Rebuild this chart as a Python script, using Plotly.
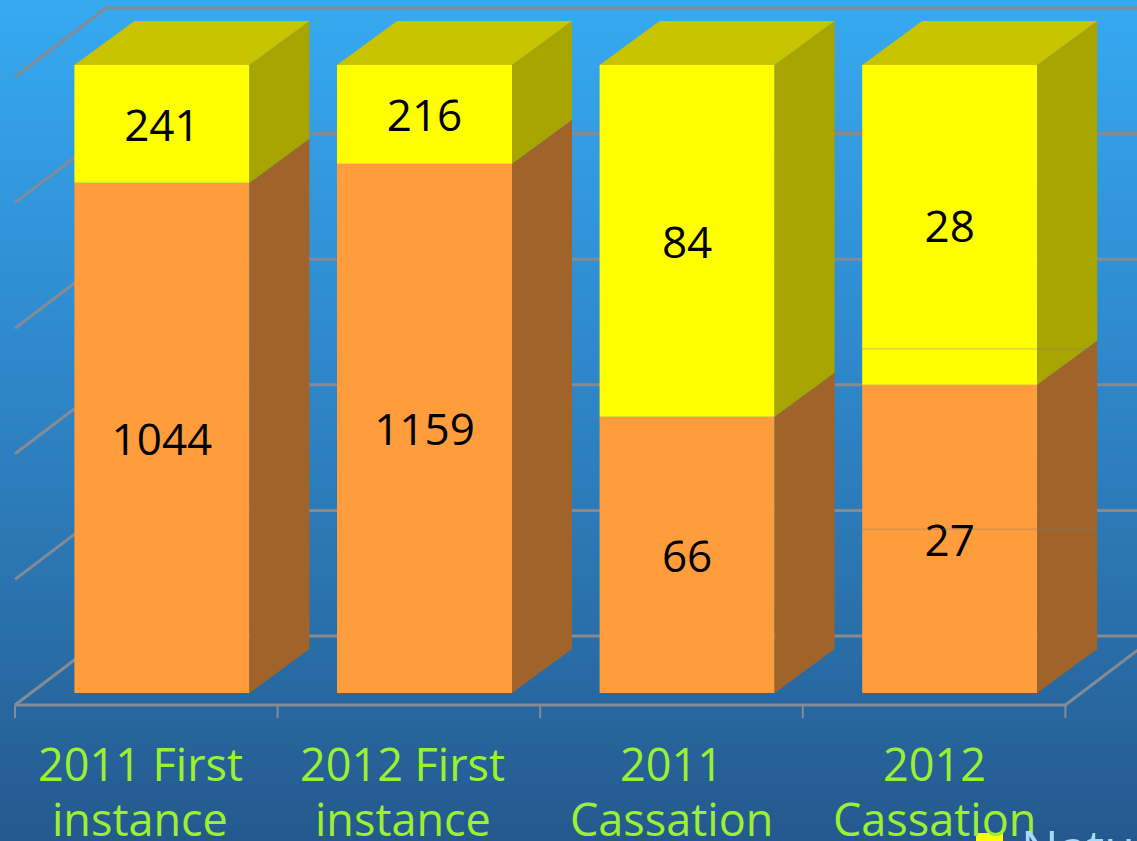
import base64, struct, zlib
import plotly.graph_objects as go

# ---- data
categories = ["2011 First<br>instance", "2012 First<br>instance", "2011<br>Cassation", "2012<br>Cassation"]
lower_values = [1044, 1159, 66, 27]
upper_values = [241, 216, 84, 28]
axis_ticks = [0, 20, 40, 60, 80, 100]
legend_text = "Natural"

# ---- colours
FRONT_LOW, SIDE_LOW = "#ff9c3c", "#a0642a"
FRONT_UP, SIDE_UP, TOP_UP = "#ffff00", "#a8a400", "#c8c400"
GRID = "#858b94"
LABEL = "#9cf030"
FONT = "Open Sans, Noto Sans, sans-serif"

# ---- scales: one category = 262.6 px, one percent = 6.28 px
CAT_PX, PCT_PX = 262.6, 6.28
X_RANGE = [-146.3 / CAT_PX, (1137 - 146.3) / CAT_PX]
Y_RANGE = [(705 - 841) / PCT_PX, 705 / PCT_PX]
BAR_W = 175 / CAT_PX
BAR_DX, BAR_DY = 15.6 / CAT_PX, 12 / PCT_PX
DEPTH_X, DEPTH_Y = 60 / CAT_PX, 44 / PCT_PX
WALL_X, WALL_Y = 91 / CAT_PX, 69 / PCT_PX
LEFT, RIGHT = -0.5, 3.5

lower_share = [100 * a / (a + b) for a, b in zip(lower_values, upper_values)]
upper_share = [100 - s for s in lower_share]
xs = [i + BAR_DX for i in range(len(categories))]


def gradient_png(stops, h=841):
    rows = []
    for y in range(h):
        t = y / (h - 1) * (len(stops) - 1)
        k = min(int(t), len(stops) - 2)
        f = t - k
        rgb = [round(stops[k][c] + (stops[k + 1][c] - stops[k][c]) * f) for c in range(3)]
        rows.append(b"\x00" + bytes(rgb))

    def chunk(tag, data):
        return struct.pack(">I", len(data)) + tag + data + struct.pack(">I", zlib.crc32(tag + data))

    raw = b"".join(rows)
    png = b"\x89PNG\r\n\x1a\n" + chunk(b"IHDR", struct.pack(">IIBBBBB", 1, h, 8, 2, 0, 0, 0)) \
        + chunk(b"IDAT", zlib.compress(raw)) + chunk(b"IEND", b"")
    return "data:image/png;base64," + base64.b64encode(png).decode()


fig = go.Figure()


def poly(px, py, color):
    fig.add_trace(go.Scatter(x=px, y=py, mode="lines", fill="toself", fillcolor=color,
                             line=dict(width=0, color=color), hoverinfo="skip", showlegend=False))


fig.add_trace(go.Bar(x=xs, y=lower_share, base=[BAR_DY] * 4, width=BAR_W, marker_color=FRONT_LOW,
                     marker_line_width=0, text=[str(v) for v in lower_values],
                     textposition="inside", insidetextanchor="middle", constraintext="none",
                     textangle=0, textfont=dict(family=FONT, size=44, color="black"), showlegend=False))
fig.add_trace(go.Bar(x=xs, y=upper_share, base=[BAR_DY + s for s in lower_share], width=BAR_W,
                     marker_color=FRONT_UP, marker_line_width=0, text=[str(v) for v in upper_values],
                     textposition="inside", insidetextanchor="middle", constraintext="none",
                     textangle=0, textfont=dict(family=FONT, size=44, color="black"), showlegend=False))

for x, s in zip(xs, lower_share):
    r = x + BAR_W / 2
    l = x - BAR_W / 2
    b = BAR_DY
    m = b + s
    t = b + 100
    poly([r, r + DEPTH_X, r + DEPTH_X, r, r], [b, b + DEPTH_Y, m + DEPTH_Y, m, b], SIDE_LOW)
    poly([r, r + DEPTH_X, r + DEPTH_X, r, r], [m, m + DEPTH_Y, t + DEPTH_Y, t, m], SIDE_UP)
    poly([l, l + DEPTH_X, r + DEPTH_X, r, l], [t, t + DEPTH_Y, t + DEPTH_Y, t, t], TOP_UP)

# the two hairlines that cross the last column in the picture
for level in [56.7, 28.0]:
    x = xs[3]
    fig.add_trace(go.Scatter(x=[x - BAR_W / 2, x + BAR_W / 2 + DEPTH_X], y=[level, level], mode="lines",
                             line=dict(color="rgba(120,130,130,0.45)", width=1),
                             hoverinfo="skip", showlegend=False))

shapes = []


def seg(x0, y0, x1, y1, w=3):
    shapes.append(dict(type="line", layer="below", x0=x0, y0=y0, x1=x1, y1=y1, line=dict(color=GRID, width=w)))


for v in axis_ticks:
    seg(LEFT, v, LEFT + WALL_X, v + WALL_Y)
    seg(LEFT + WALL_X, v + WALL_Y, X_RANGE[1], v + WALL_Y)
seg(LEFT, 0, RIGHT, 0)
seg(RIGHT, 0, RIGHT + WALL_X, WALL_Y)
for i in range(5):
    seg(LEFT + i, 0, LEFT + i, -13 / PCT_PX, 2)

for i, text in enumerate(categories):
    for n, line in enumerate(text.split("<br>")):
        fig.add_annotation(x=i - (6 / CAT_PX if i < 2 else 0), y=(705 - (731 + 55 * n)) / PCT_PX, text=line,
                           showarrow=False, xref="x", yref="y", xanchor="center", yanchor="top",
                           align="center", font=dict(family=FONT, size=45, color=LABEL))

# legend key, cut by the lower edge of the picture as in the reference
fig.add_trace(go.Bar(x=[(989.5 - 146.3) / CAT_PX], y=[-8], base=[(705 - 833) / PCT_PX], width=27 / CAT_PX,
                     marker_color=FRONT_UP, marker_line_width=0, hoverinfo="skip", showlegend=False))
fig.add_annotation(x=(1019 - 146.3) / CAT_PX, y=(705 - 811) / PCT_PX, text=legend_text, showarrow=False,
                   xref="x", yref="y", xanchor="left", yanchor="top",
                   font=dict(family=FONT, size=50, color="#a6daf8"))

fig.update_layout(
    width=1137, height=841, margin=dict(l=0, r=0, t=0, b=0), autosize=False,
    barmode="overlay", paper_bgcolor="#2a70aa", plot_bgcolor="rgba(0,0,0,0)",
    xaxis=dict(range=X_RANGE, visible=False, fixedrange=True),
    yaxis=dict(range=Y_RANGE, visible=False, fixedrange=True),
    shapes=shapes,
    images=[dict(source=gradient_png([(54, 170, 241), (48, 143, 212), (43, 118, 178), (36, 89, 142)]),
                 xref="paper", yref="paper", x=0, y=1, sizex=1, sizey=1, sizing="stretch",
                 xanchor="left", yanchor="top", layer="below")],
)

fig.write_html("out.html", config=dict(displayModeBar=False),
               post_script="document.body.style.margin='0';document.body.style.overflow='hidden';")
